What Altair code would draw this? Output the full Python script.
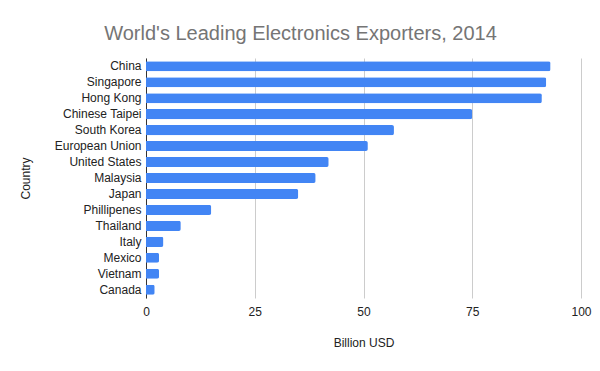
import altair as alt
import pandas as pd

countries = ["China", "Singapore", "Hong Kong", "Chinese Taipei", "South Korea",
             "European Union", "United States", "Malaysia", "Japan", "Phillipenes",
             "Thailand", "Italy", "Mexico", "Vietnam", "Canada"]
values = [93, 92, 91, 75, 57, 51, 42, 39, 35, 15, 8, 4, 3, 3, 2]

df = pd.DataFrame({"Country": countries, "Billion USD": values})

FONT = "Liberation Sans"

chart = alt.Chart(df).mark_bar(color="#4285F4", cornerRadiusEnd=2).encode(
    x=alt.X("Billion USD:Q",
            scale=alt.Scale(domain=[0, 100], nice=False),
            axis=alt.Axis(values=[0, 25, 50, 75, 100], title="Billion USD",
                          grid=True, gridColor="#cccccc", domain=False, ticks=False,
                          labelFlush=False,
                          labelFont=FONT, labelFontSize=12, labelColor="#222222",
                          labelPadding=8, titleFont=FONT, titleFontSize=12,
                          titleFontWeight="normal", titleColor="#222222", titlePadding=20)),
    y=alt.Y("Country:N", sort=countries,
            scale=alt.Scale(paddingInner=0.37, paddingOuter=0.2),
            axis=alt.Axis(title="Country", domain=True, domainColor="#333333", ticks=False,
                          labelFont=FONT, labelFontSize=12, labelColor="#222222",
                          labelPadding=5, titleFont=FONT, titleFontSize=12,
                          titleFontWeight="normal", titleColor="#222222", titlePadding=22)),
).properties(
    width=435,
    height=240,
    title=alt.TitleParams("World's Leading Electronics Exporters, 2014", font=FONT,
                          fontSize=20, fontWeight="normal", color="#757575",
                          anchor="middle", dx=-63, offset=14),
    autosize=alt.AutoSizeParams(type="none"),
    padding={"left": 138, "top": 50, "right": 11, "bottom": 73},
).configure_view(stroke=None)

chart.save("out.html", embed_options={"renderer": "svg", "actions": False})
